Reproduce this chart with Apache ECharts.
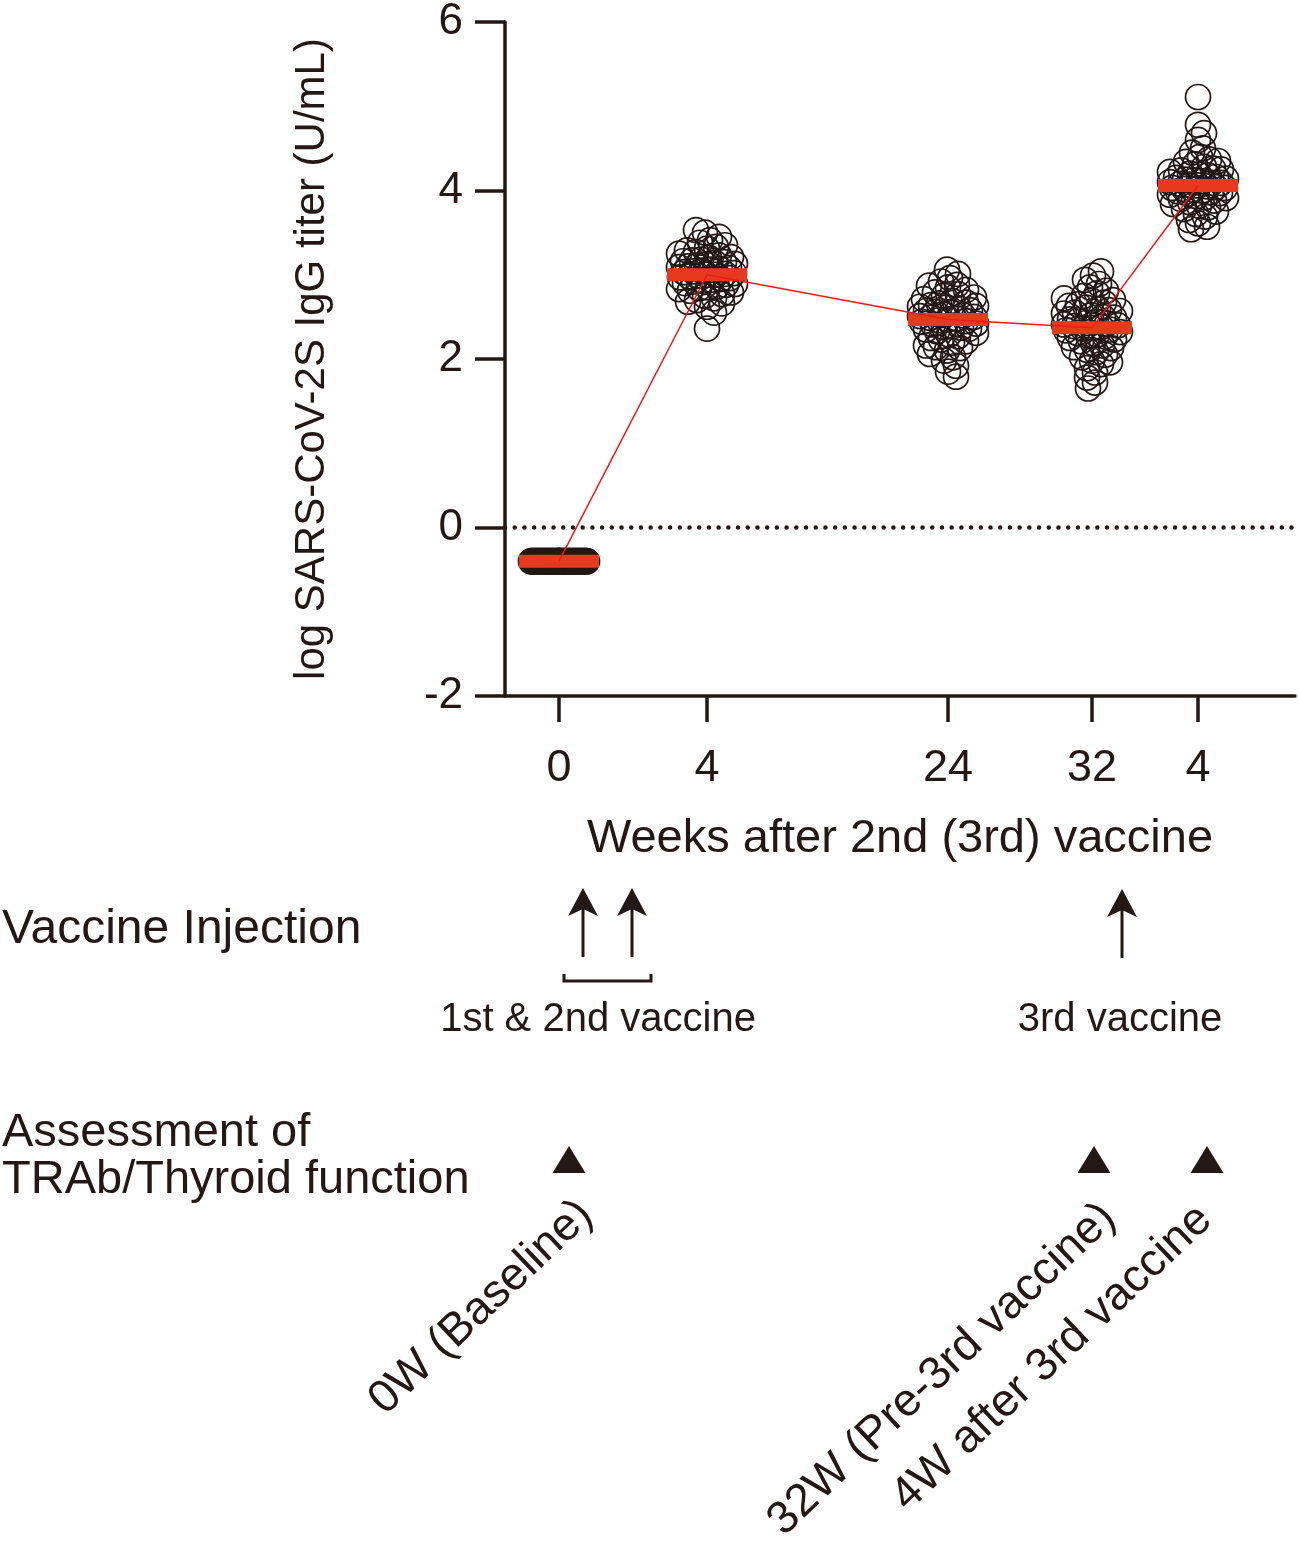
<!DOCTYPE html>
<html style="height: 100%">
<head>
    <meta charset="UTF-8">
    <script type="text/javascript" src="https://cdn.jsdelivr.net/npm/echarts@6/dist/echarts.min.js"></script>
</head>
<body style="height: 100%; margin: 0">
    <div id="container" style="width: 1299px; height: 1546px;"></div>
    <script type="text/javascript">
        // x position of each group on the (unitless) x axis, and its tick label
        var weekLabels = ['0', '4', '24', '32', '4'];
        var groupX = [54, 202, 443, 587, 693];
        var medians = [-0.4, 3.0, 2.47, 2.37, 4.06];

        // log titer of each participant
        var week0 = [-0.4, -0.4, -0.4, -0.4, -0.4, -0.4, -0.4, -0.4, -0.4, -0.4,
                     -0.4, -0.4, -0.4, -0.4, -0.4, -0.4, -0.4, -0.4, -0.4, -0.4,
                     -0.4, -0.4, -0.4, -0.4, -0.4, -0.4, -0.4, -0.4, -0.4, -0.4,
                     -0.4, -0.4, -0.4, -0.4, -0.4, -0.4, -0.4, -0.4, -0.4, -0.4,
                     -0.4, -0.4, -0.4, -0.4, -0.4, -0.4, -0.4, -0.4, -0.4, -0.4,
                     -0.4, -0.4, -0.4, -0.4, -0.4, -0.4, -0.4, -0.4, -0.4, -0.4];
        var week4 = [2.36, 2.55, 2.62, 2.66, 2.70, 2.72, 2.75, 2.77, 2.79, 2.81,
                     2.83, 2.85, 2.86, 2.88, 2.89, 2.90, 2.92, 2.93, 2.94, 2.95,
                     2.96, 2.97, 2.98, 2.99, 3.00, 3.00, 3.01, 3.02, 3.03, 3.04,
                     3.05, 3.06, 3.07, 3.08, 3.09, 3.10, 3.11, 3.12, 3.13, 3.14,
                     3.15, 3.16, 3.17, 3.18, 3.20, 3.21, 3.23, 3.25, 3.27, 3.29,
                     3.31, 3.33, 3.35, 3.38, 3.41, 3.45, 3.50, 3.53, 2.68, 2.84];
        var week24 = [1.79, 1.85, 1.92, 1.98, 2.02, 2.06, 2.10, 2.13, 2.16, 2.19,
                      2.21, 2.23, 2.25, 2.27, 2.29, 2.31, 2.33, 2.35, 2.36, 2.38,
                      2.39, 2.41, 2.42, 2.44, 2.45, 2.46, 2.47, 2.48, 2.49, 2.50,
                      2.51, 2.52, 2.53, 2.55, 2.56, 2.57, 2.58, 2.60, 2.61, 2.63,
                      2.64, 2.66, 2.67, 2.69, 2.71, 2.73, 2.75, 2.77, 2.79, 2.82,
                      2.85, 2.88, 2.92, 2.96, 3.01, 3.06, 2.14, 2.37, 2.62, 2.87];
        var week32 = [1.65, 1.72, 1.78, 1.84, 1.89, 1.94, 1.98, 2.02, 2.05, 2.08,
                      2.11, 2.14, 2.16, 2.19, 2.21, 2.23, 2.25, 2.27, 2.29, 2.31,
                      2.32, 2.34, 2.35, 2.36, 2.37, 2.38, 2.39, 2.40, 2.42, 2.43,
                      2.44, 2.46, 2.47, 2.49, 2.50, 2.52, 2.54, 2.55, 2.57, 2.59,
                      2.61, 2.63, 2.65, 2.67, 2.70, 2.72, 2.75, 2.78, 2.81, 2.85,
                      2.89, 2.94, 2.99, 3.04, 1.96, 2.28, 2.58, 2.13, 2.41, 2.69];
        var after3rd = [5.11, 4.78, 4.68, 4.60, 4.50, 4.45, 4.40, 4.37, 4.34, 4.31,
                        4.28, 4.26, 4.24, 4.22, 4.20, 4.18, 4.16, 4.15, 4.13, 4.12,
                        4.11, 4.10, 4.09, 4.08, 4.07, 4.06, 4.05, 4.04, 4.03, 4.02,
                        4.01, 4.00, 3.99, 3.97, 3.96, 3.95, 3.93, 3.92, 3.90, 3.88,
                        3.86, 3.84, 3.82, 3.80, 3.78, 3.75, 3.72, 3.69, 3.65, 3.61,
                        3.57, 3.54, 4.19, 4.14, 4.09, 4.03, 3.98, 3.91, 4.25, 4.35];
        var groups = [week0, week4, week24, week32, after3rd];

        var ink = '#231815';
        var font = '"Liberation Sans", Arial, sans-serif';

        // beeswarm: points nearest the median are placed first, each at the
        // smallest sideways shift that keeps minDist px from the others
        function swarm(values, cx, med, pxPerY, minDist, halfWidth) {
            var order = values.map(function (v, i) { return i; });
            order.sort(function (a, b) {
                return Math.abs(values[a] - med) - Math.abs(values[b] - med) || a - b;
            });
            var placed = [];
            var out = [];
            order.forEach(function (i) {
                var y = values[i] * pxPerY;
                var best = 0, bestScore = -1;
                for (var k = 0; k <= 2 * halfWidth; k++) {
                    var off = (k % 2 ? 1 : -1) * Math.ceil(k / 2);
                    var md = Infinity;
                    placed.forEach(function (p) {
                        var d = Math.sqrt((p[0] - off) * (p[0] - off) + (p[1] - y) * (p[1] - y));
                        if (d < md) md = d;
                    });
                    if (md >= minDist) { best = off; break; }
                    if (md > bestScore) { bestScore = md; best = off; }
                }
                placed.push([best, y]);
                out.push([cx + best, values[i]]);
            });
            return out;
        }

        var pxPerY = 680 / 8;
        var points = [];
        groups.forEach(function (g, i) {
            points = points.concat(swarm(g, groupX[i], medians[i], pxPerY, 9, 28));
        });
        var medianData = groupX.map(function (x, i) { return [x, medians[i]]; });

        function arrow(x, y0, y1) {
            return [
                { type: 'line', shape: { x1: x, y1: y0, x2: x, y2: y1 + 14 },
                  style: { stroke: ink, lineWidth: 3 } },
                { type: 'polygon', shape: { points: [[x, y1], [x - 15, y1 + 28], [x, y1 + 21], [x + 15, y1 + 28]] },
                  style: { fill: ink } }
            ];
        }
        function tri(cx) {
            return { type: 'polygon', shape: { points: [[cx, 1146], [cx - 16.5, 1173], [cx + 16.5, 1173]] },
                     style: { fill: ink } };
        }
        function label(text, x, y, size, align) {
            return { type: 'text', x: x, y: y,
                     style: { text: text, fontSize: size, fontFamily: font, fill: ink,
                              align: align || 'left', verticalAlign: 'middle' } };
        }
        function slanted(text, x, y) {
            return { type: 'text', x: x, y: y, rotation: 43.5 * Math.PI / 180,
                     style: { text: text, fontSize: 46, fontFamily: font, fill: ink,
                              align: 'right', verticalAlign: 'middle' } };
        }

        var dom = document.getElementById('container');
        var myChart = echarts.init(dom);
        var option = {
            animation: false,
            backgroundColor: '#fff',
            grid: { left: 505, top: 16, width: 790, height: 680 },
            xAxis: {
                type: 'value', min: 0, max: 790,
                name: 'Weeks after 2nd (3rd) vaccine',
                nameLocation: 'middle', nameGap: 120,
                nameTextStyle: { fontSize: 47, fontFamily: font, color: ink },
                axisLine: { onZero: false, lineStyle: { color: ink, width: 3.5 } },
                axisTick: { customValues: groupX, length: 26, lineStyle: { color: ink, width: 3.5 } },
                axisLabel: {
                    customValues: groupX, margin: 50, fontSize: 45, fontFamily: font, color: ink,
                    formatter: function (v) { return weekLabels[groupX.indexOf(v)]; }
                },
                splitLine: { show: false }
            },
            yAxis: {
                type: 'value', min: -2, max: 6, interval: 2,
                name: 'log SARS-CoV-2S IgG titer (U/mL)',
                nameLocation: 'middle', nameRotate: 90, nameGap: 172,
                nameTextStyle: { fontSize: 42, fontFamily: font, color: ink },
                axisLine: { onZero: false, lineStyle: { color: ink, width: 3.5 } },
                axisTick: { length: 30, lineStyle: { color: ink, width: 3.5 } },
                axisLabel: { margin: 42, fontSize: 44, fontFamily: font, color: ink },
                splitLine: { show: false }
            },
            series: [{
                type: 'scatter',
                data: points,
                symbol: 'circle',
                symbolSize: 25,
                itemStyle: { color: 'rgba(0,0,0,0)', borderColor: ink, borderWidth: 1.7, opacity: 1 },
                z: 2,
                silent: true,
                markLine: {
                    silent: true, symbol: 'none', label: { show: false },
                    lineStyle: { color: ink, width: 4.5, type: [0.01, 9.7], cap: 'round' },
                    data: [{ yAxis: 0 }]
                }
            }, {
                type: 'scatter',
                data: medianData,
                symbol: 'rect',
                symbolSize: [80, 13],
                itemStyle: { color: '#e63a1f', opacity: 1 },
                z: 3,
                silent: true
            }, {
                type: 'line',
                data: medianData,
                showSymbol: false,
                symbol: 'none',
                lineStyle: { color: '#f01818', width: 1.5 },
                z: 4,
                silent: true
            }],
            graphic: [].concat(
                [label('Vaccine Injection', 2, 930, 48)],
                arrow(583, 957, 888),
                arrow(632, 957, 888),
                arrow(1122, 958, 889),
                [{ type: 'polyline', shape: { points: [[564, 974], [564, 981], [651, 981], [651, 974]] },
                   style: { stroke: ink, lineWidth: 3, fill: null } },
                 label('1st & 2nd vaccine', 598, 1020, 40, 'center'),
                 label('3rd vaccine', 1120, 1020, 40, 'center'),
                 label('Assessment of', 2, 1133, 47),
                 label('TRAb/Thyroid function', 2, 1180, 47),
                 tri(569), tri(1094), tri(1207),
                 slanted('0W (Baseline)', 586, 1208),
                 slanted('32W (Pre-3rd vaccine)', 1109, 1211),
                 slanted('4W after 3rd vaccine', 1205, 1213)]
            )
        };
        if (option && typeof option === 'object') {
            myChart.setOption(option, true);
        }
    </script>
</body>
</html>
